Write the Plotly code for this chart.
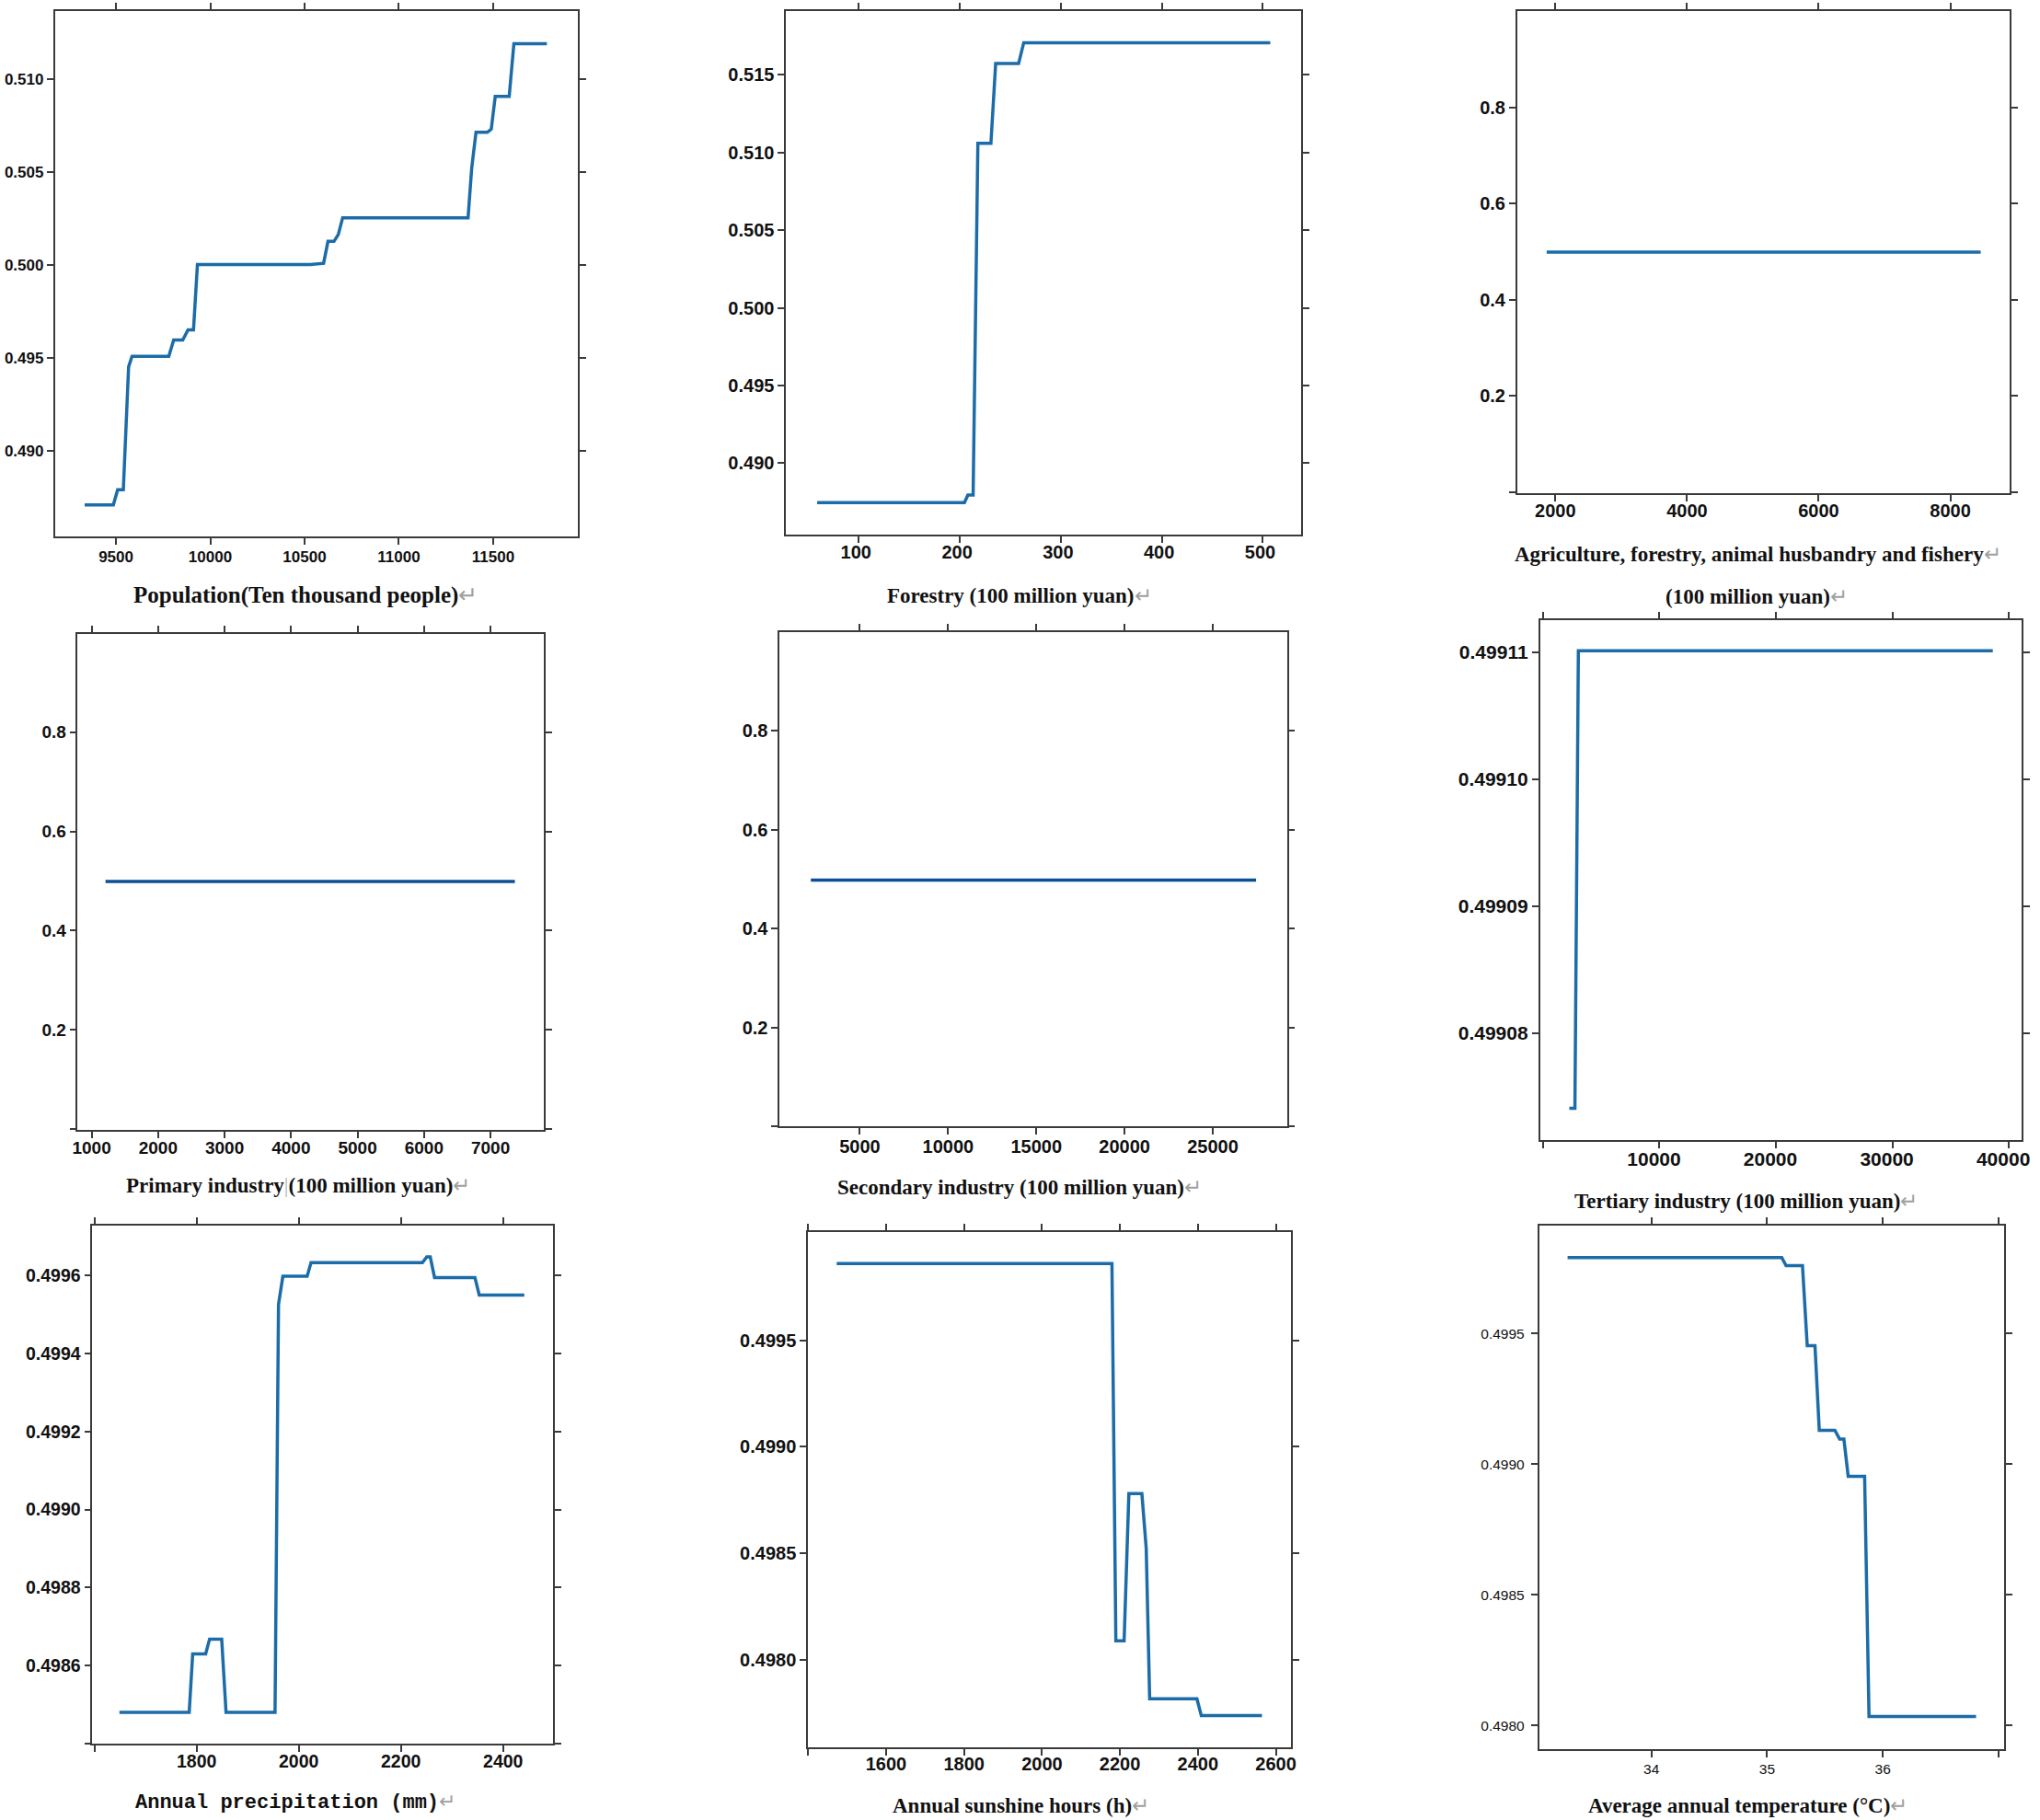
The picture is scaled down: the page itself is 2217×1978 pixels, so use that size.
import plotly.graph_objects as go

W, H = 2217, 1978

# ---------------- data ----------------
pop_x = [9334, 9486, 9509, 9539, 9567, 9585, 9780, 9806, 9854, 9882, 9911, 9932, 10530,
         10601, 10624, 10656, 10679, 10702, 11367, 11386, 11409, 11469, 11490, 11511,
         11585, 11610, 11785]
pop_y = [0.48709, 0.48709, 0.48791, 0.48791, 0.49452, 0.49508, 0.49508, 0.49596, 0.49596,
         0.49650, 0.49650, 0.50001, 0.50001, 0.50008, 0.50126, 0.50126, 0.50163, 0.50253,
         0.50253, 0.50518, 0.50712, 0.50712, 0.50729, 0.50905, 0.50905, 0.51189, 0.51189]

for_x = [58.8, 204.6, 208.0, 213.2, 217.9, 230.8, 235.5, 258.2, 263.3, 507.3]
for_y = [0.48747, 0.48747, 0.48796, 0.48796, 0.51059, 0.51059, 0.51572, 0.51572, 0.51706, 0.51706]

agr_x = [1868, 8461]
agr_y = [0.499, 0.499]

pri_x = [1209, 7367]
pri_y = [0.499, 0.499]

sec_x = [2224, 27457]
sec_y = [0.498, 0.498]

ter_x = [2257, 2738, 3034, 38624]
ter_y = [0.4990741, 0.4990741, 0.4991101, 0.4991101]

pre_x = [1649, 1785.6, 1792.4, 1817.8, 1825.5, 1849.2, 1857.7, 1953.6, 1960.4, 1968.9,
         2016.4, 2024.0, 2242.1, 2250.6, 2257.4, 2265.8, 2344.8, 2353.3, 2441.5]
pre_y = [0.498480, 0.498480, 0.498630, 0.498630, 0.498668, 0.498668, 0.498480, 0.498480,
         0.499526, 0.499598, 0.499598, 0.499633, 0.499633, 0.499648, 0.499648, 0.499595,
         0.499595, 0.499550, 0.499550]

sun_x = [1473.2, 2179.5, 2189.5, 2210.7, 2222.9, 2256.3, 2267.4, 2276.3, 2397.5, 2408.7, 2564.4]
sun_y = [0.499861, 0.499861, 0.498088, 0.498088, 0.498780, 0.498780, 0.498524, 0.497816,
         0.497816, 0.497737, 0.497737]

tem_x = [33.276, 35.127, 35.164, 35.306, 35.347, 35.414, 35.451, 35.586, 35.627, 35.664,
         35.701, 35.843, 35.881, 36.806]
tem_y = [0.499791, 0.499791, 0.499760, 0.499760, 0.499454, 0.499454, 0.499130, 0.499130,
         0.499096, 0.499096, 0.498954, 0.498954, 0.498035, 0.498035]

# tick values / labels
pop_xt = [9500, 10000, 10500, 11000, 11500]
pop_yt = [0.490, 0.495, 0.500, 0.505, 0.510]
pop_ytl = ["0.490", "0.495", "0.500", "0.505", "0.510"]
for_xt = [100, 200, 300, 400, 500]
for_yt = [0.490, 0.495, 0.500, 0.505, 0.510, 0.515]
for_ytl = ["0.490", "0.495", "0.500", "0.505", "0.510", "0.515"]
agr_xt = [2000, 4000, 6000, 8000]
unit_yt = [0, 0.2, 0.4, 0.6, 0.8]
unit_ytl = ["", "0.2", "0.4", "0.6", "0.8"]
pri_xt = [1000, 2000, 3000, 4000, 5000, 6000, 7000]
sec_xt = [5000, 10000, 15000, 20000, 25000]
ter_xt = [0, 10000, 20000, 30000, 40000]
ter_xtl = ["", "10000", "20000", "30000", "40000"]
ter_yt = [0.49908, 0.49909, 0.49910, 0.49911]
ter_ytl = ["0.49908", "0.49909", "0.49910", "0.49911"]
pre_xt = [1600, 1800, 2000, 2200, 2400]
pre_xtl = ["", "1800", "2000", "2200", "2400"]
pre_yt = [0.4984, 0.4986, 0.4988, 0.4990, 0.4992, 0.4994, 0.4996]
pre_ytl = ["", "0.4986", "0.4988", "0.4990", "0.4992", "0.4994", "0.4996"]
sun_xt = [1400, 1600, 1800, 2000, 2200, 2400, 2600]
sun_xtl = ["", "1600", "1800", "2000", "2200", "2400", "2600"]
sun_yt = [0.4980, 0.4985, 0.4990, 0.4995]
sun_ytl = ["0.4980", "0.4985", "0.4990", "0.4995"]
tem_xt = [34, 35, 36, 37]
tem_xtl = ["34", "35", "36", ""]
tem_yt = [0.4980, 0.4985, 0.4990, 0.4995]
tem_ytl = ["0.4980", "0.4985", "0.4990", "0.4995"]

ARW = "<span style='color:#a0a0a0;font-weight:normal'>\u21b5</span>"

BLUE = "#1b6ca8"
NAVY = "#0d4f93"

panels = [
    dict(x=pop_x, y=pop_y, box=(54, 12, 626, 583), xr=[9176, 11948], yr=[0.48540, 0.51364],
         xt=pop_xt, xtl=[str(v) for v in pop_xt], yt=pop_yt, ytl=pop_ytl, fs=17, xso=-1, yso=0,
         xsh=0, color=BLUE),
    dict(x=for_x, y=for_y, box=(854, 12, 1418, 581), xr=[28, 538.2], yr=[0.48541, 0.51910],
         xt=for_xt, xtl=[str(v) for v in for_xt], yt=for_yt, ytl=for_ytl, fs=20, xso=-7, yso=0,
         xsh=-3, color=BLUE),
    dict(x=agr_x, y=agr_y, box=(1654, 12, 2193, 536), xr=[1420, 8903], yr=[-0.002, 1.0],
         xt=agr_xt, xtl=[str(v) for v in agr_xt], yt=unit_yt, ytl=unit_ytl, fs=20, xso=-7, yso=0,
         xsh=0, color=BLUE),
    dict(x=pri_x, y=pri_y, box=(79, 689, 589, 1228), xr=[791, 7802], yr=[-0.002, 0.998],
         xt=pri_xt, xtl=[str(v) for v in pri_xt], yt=unit_yt, ytl=unit_ytl, fs=19, xso=-6, yso=0,
         xsh=0, color=NAVY),
    dict(x=sec_x, y=sec_y, box=(847, 687, 1402, 1224), xr=[454, 29201], yr=[0, 1.0],
         xt=sec_xt, xtl=[str(v) for v in sec_xt], yt=unit_yt, ytl=unit_ytl, fs=20, xso=-4, yso=0,
         xsh=0, color=NAVY),
    dict(x=ter_x, y=ter_y, box=(1679, 674, 2206, 1239), xr=[-259, 41102],
         yr=[0.49907161, 0.4991125], xt=ter_xt, xtl=ter_xtl, yt=ter_yt, ytl=ter_ytl, fs=21,
         xso=-6, yso=0, xsh=-6, color=BLUE),
    dict(x=pre_x, y=pre_y, box=(95, 1332, 599, 1895), xr=[1596, 2497.6], yr=[0.4984, 0.499728],
         xt=pre_xt, xtl=pre_xtl, yt=pre_yt, ytl=pre_ytl, fs=19.5, xso=-6, yso=0, xsh=0,
         color=BLUE),
    dict(x=sun_x, y=sun_y, box=(878, 1339, 1407, 1899), xr=[1399.5, 2640],
         yr=[0.497588, 0.500009], xt=sun_xt, xtl=sun_xtl, yt=sun_yt, ytl=sun_ytl, fs=20,
         xso=-8, yso=0, xsh=0, color=BLUE),
    dict(x=tem_x, y=tem_y, box=(1678, 1332, 2187, 1901), xr=[33.03, 37.05],
         yr=[0.49791, 0.499913], xt=tem_xt, xtl=tem_xtl, yt=tem_yt, ytl=tem_ytl, fs=15.5,
         xso=0, yso=4, xsh=0, color=BLUE),
]

titles = [
    ("Population(Ten thousand people)", 328, 647, 25, "Liberation Serif", True),
    ("Forestry (100 million yuan)", 1110, 647, 23, "Liberation Serif", True),
    ("Agriculture, forestry, animal husbandry and fishery", 1917, 602, 23, "Liberation Serif", True),
    ("(100 million yuan)", 1916, 648, 23, "Liberation Serif", True),
    ("Primary industry<span style='color:#b0b0b0;font-weight:normal'>|</span>(100 million yuan)",
     320, 1288, 23, "Liberation Serif", True),
    ("Secondary industry (100 million yuan)", 1110, 1290, 23, "Liberation Serif", True),
    ("Tertiary industry (100 million yuan)", 1904, 1305, 23, "Liberation Serif", True),
    ("Annual precipitation (mm)", 317, 1959, 22, "Liberation Mono", True),
    ("Annual sunshine hours (h)", 1111, 1962, 23, "Liberation Serif", True),
    ("Average annual temperature (\u00b0C)", 1906, 1962, 23, "Liberation Serif", True),
]

fig = go.Figure()
layout = dict(width=W, height=H, margin=dict(l=0, r=0, t=0, b=0),
              paper_bgcolor="white", plot_bgcolor="white", showlegend=False)

for i, p in enumerate(panels, start=1):
    sfx = "" if i == 1 else str(i)
    fig.add_trace(go.Scatter(x=p["x"], y=p["y"], mode="lines",
                             line=dict(color=p["color"], width=3.5),
                             xaxis="x" + sfx, yaxis="y" + sfx, hoverinfo="skip"))
    l, t, r, b = p["box"]
    weight = "normal" if i == 9 else "bold"
    tf = dict(family="Liberation Sans, Arial, sans-serif", size=p["fs"], color="#111",
              weight=weight)
    common = dict(showline=True, linecolor="#3a3a3a", linewidth=1.6, mirror="ticks",
                  ticks="outside", ticklen=7, tickwidth=1.5, tickcolor="#3a3a3a",
                  showgrid=False, zeroline=False, tickfont=tf, tickmode="array")
    layout["xaxis" + sfx] = dict(common, domain=[l / W, r / W], range=p["xr"],
                                 anchor="y" + sfx, tickvals=p["xt"], ticktext=p["xtl"],
                                 ticklabelstandoff=p["xso"], ticklabelshift=p["xsh"])
    layout["yaxis" + sfx] = dict(common, domain=[1 - b / H, 1 - t / H], range=p["yr"],
                                 anchor="x" + sfx, tickvals=p["yt"], ticktext=p["ytl"],
                                 ticklabelstandoff=p["yso"])

annots = []
for text, cx, cy, fs, fam, bold in titles:
    annots.append(dict(text=text + ARW, x=cx / W, y=1 - cy / H, xref="paper", yref="paper",
                       xanchor="center", yanchor="middle", showarrow=False,
                       font=dict(family=fam, size=fs, color="#111",
                                 weight="bold" if bold else "normal")))
layout["annotations"] = annots

fig.update_layout(**layout)
fig.write_html("out.html", config={"displayModeBar": False},
               post_script="document.body.style.margin='0';document.body.style.overflow='hidden';")
